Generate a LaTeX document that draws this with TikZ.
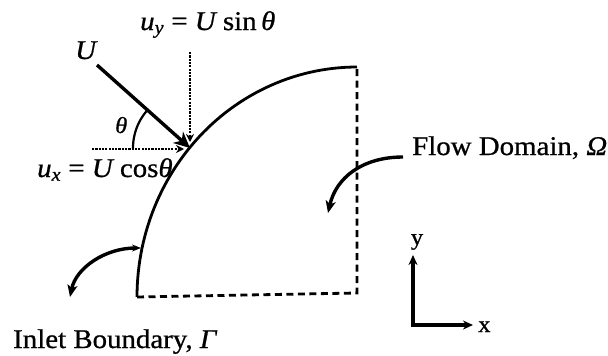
\documentclass[tikz,border=0pt]{standalone}
\usepackage{fontspec}
\setmainfont{Liberation Serif}[FakeStretch=1.07, FakeBold=0.8]
\usetikzlibrary{arrows.meta}
\begin{document}
\begin{tikzpicture}[x=1pt,y=-1pt,
  lbl/.style={inner sep=0pt, font=\fontsize{27}{30}\selectfont},
  smalllbl/.style={inner sep=0pt, font=\fontsize{23}{26}\selectfont},
  curveline/.style={line width=2.8pt},
  dashline/.style={line width=2.8pt, dash pattern=on 7pt off 4.5pt},
  dotarrow/.style={line width=2.8pt, dash pattern=on 2.2pt off 1.1pt, -{Stealth[length=8pt,width=8pt]}},
  bigarrow/.style={line width=3.4pt, -{Stealth[length=16pt,width=15pt,inset=5pt]}},
  callout/.style={line width=3.4pt, -{Stealth[length=12pt,width=10pt,inset=3pt]}},
  axisarrow/.style={line width=3.2pt, {Stealth[length=10pt,width=9pt]}-{Stealth[length=10pt,width=9pt]}}
]
\useasboundingbox (0,0) rectangle (608,356);

% labels
\node[lbl, anchor=base west] (uy) at (140,30) {{\itshape u}\textsubscript{\itshape y} = {\itshape U} sin\,{\itshape θ}};
\node[lbl, anchor=base west] (Ulbl) at (75,59) {\itshape U};
\node[lbl, anchor=base west] (ux) at (37,177) {{\itshape u}\textsubscript{\itshape x} = {\itshape U} cos{\itshape θ}};
\node[smalllbl, anchor=base west] (thlbl) at (115,133) {\itshape θ};
\node[lbl, anchor=base west] (flow) at (412,155) {Flow Domain, {\itshape Ω}};
\node[lbl, anchor=base west] (inlet) at (13,348) {Inlet Boundary, {\itshape Γ}};

% key points
\coordinate (tip) at (190,148);
\coordinate (ustart) at (97,65);
\coordinate (vtop) at (190,52);
\coordinate (vend) at (190,142);
\coordinate (hleft) at (92,149);
\coordinate (hend) at (184,149);
\coordinate (bl) at (137,297);
\coordinate (br) at (357,293);
\coordinate (tr) at (357,67);

% domain boundary
\draw[curveline] plot[domain=0:90, samples=60] ({357-220*cos(\x)},{297-230*sin(\x)});
\draw[dashline] (bl) -- (br) -- (tr);

% velocity
\draw[dotarrow] (vtop) -- (vend);
\draw[dotarrow] (hleft) -- (hend);
\draw[line width=2.2pt] plot[domain=180:221, samples=20] ({190+57*cos(\x)},{148+57*sin(\x)});
\draw[bigarrow] (ustart) -- (tip);

% callouts
\coordinate (fstart) at (403,157);
\coordinate (ftip) at (328,213);
\draw[callout] (fstart) .. controls (362,157) and (336,178) .. (ftip);
\coordinate (itop) at (141,248);
\coordinate (ibot) at (70,297);
\draw[callout, {Stealth[length=9pt,width=7pt]}-{Stealth[length=12pt,width=10pt,inset=3pt]}] (itop) .. controls (105,248) and (76,268) .. (ibot);

% axes
\coordinate (o) at (413,325);
\coordinate (ye) at (413,255);
\coordinate (xe) at (473,325);
\draw[axisarrow] (ye) -- (o) -- (xe);
\node[smalllbl] (ylbl) at (417,242) {y};
\node[smalllbl, anchor=base west] (xlbl) at (478,332) {x};
\end{tikzpicture}
\end{document}
